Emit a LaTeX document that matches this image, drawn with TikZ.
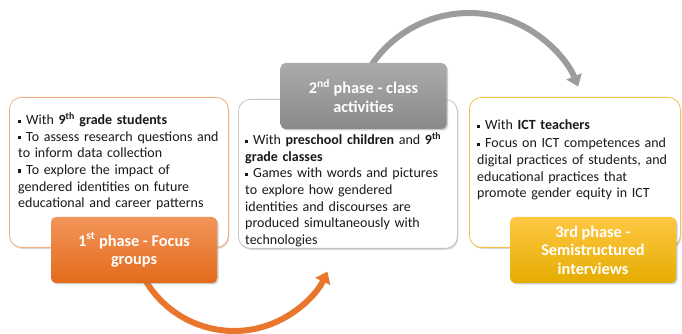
\documentclass[tikz,border=0pt]{standalone}
\usepackage{fontspec}
\setmainfont{Carlito}
\usetikzlibrary{arrows.meta,shadows,backgrounds}
\definecolor{orT}{HTML}{F3955A}
\definecolor{orB}{HTML}{E26A1A}
\definecolor{grT}{HTML}{ABABAB}
\definecolor{grB}{HTML}{8A8A8A}
\definecolor{yeT}{HTML}{FFC844}
\definecolor{yeB}{HTML}{E5AC00}
\definecolor{orLine}{HTML}{F4AE80}
\definecolor{grLine}{HTML}{C4C4C4}
\definecolor{yeLine}{HTML}{F2C24A}
\definecolor{orArc}{HTML}{E8762D}
\definecolor{grArc}{HTML}{9C9C9C}
\newcommand\myitem{\par\hangindent=8pt\hangafter=1\noindent\makebox[8pt][l]{\raisebox{2pt}{\rule{3.2pt}{3.2pt}}}}
\tikzset{
  infobox/.style={draw, fill=white, rounded corners=12pt, line width=0.8pt, anchor=north west,
    inner sep=0pt, drop shadow={shadow xshift=1pt, shadow yshift=-1.5pt, fill=black!30, opacity=.5}},
  phasebox/.style={rounded corners=5pt, minimum width=166pt, minimum height=66pt, inner sep=0pt,
    align=center, text=white, font=\bfseries\fontsize{16.3}{18.5}\selectfont,
    drop shadow={shadow xshift=1.5pt, shadow yshift=-1.5pt, fill=black!50, opacity=.4}},
  txt/.style={anchor=north west, inner sep=0pt, text width=215pt, text=black!90,
    font=\fontsize{14}{16.6}\selectfont},
  arc/.style={line width=6pt, -{Triangle[width=16pt,length=11pt]}}
}
\begin{document}
\begin{tikzpicture}[x=1pt,y=1pt]
\useasboundingbox (0,0) rectangle (682,334);
% boxes
\node[infobox, draw=orLine, minimum width=219pt, minimum height=150pt] (b1) at (9,237) {};
\node[infobox, draw=grLine, minimum width=219pt, minimum height=149pt] (b2) at (238,235) {};
\node[infobox, draw=yeLine, minimum width=211pt, minimum height=150pt] (b3) at (469,237) {};
% texts
\node[txt] (t1) at (18,226) {\raggedright
\myitem With \textbf{9\textsuperscript{th} grade students}
\myitem To assess research questions and\\to inform data collection
\myitem To explore the impact of\\gendered identities on future\\educational and career patterns\par};
\node[txt] (t2) at (245,206) {\raggedright
\myitem With \textbf{preschool children} and \textbf{9\textsuperscript{th}}\\\textbf{grade classes}
\myitem Games with words and pictures\\to explore how gendered\\identities and discourses are\\produced simultaneously with\\technologies\par};
\node[txt] (t3) at (477,221) {\raggedright
\myitem With \textbf{ICT teachers}\par\vspace{1.5pt}
\myitem Focus on ICT competences and\\digital practices of students, and\\educational practices that\\promote gender equity in ICT\par};
% phase labels
\node[phasebox, top color=orT, bottom color=orB] (l1) at (134,84) {1\textsuperscript{st} phase - Focus\\groups};
\node[phasebox, top color=grT, bottom color=grB] (l2) at (363.5,238) {2\textsuperscript{nd} phase - class\\activities};
\node[phasebox, top color=yeT, bottom color=yeB] (l3) at (593,84) {3rd phase -\\Semistructured\\interviews};
% arcs
\coordinate (oS) at (140.7,62.5);
\coordinate (gS) at (369.4,265.7);
\begin{scope}[on background layer]
\draw[arc, draw=orArc] (oS) arc[start angle=205, end angle=335, radius=103pt];
\draw[arc, draw=grArc] (gS) arc[start angle=148, end angle=22, radius=117.6pt];
\end{scope}
\end{tikzpicture}
\end{document}
